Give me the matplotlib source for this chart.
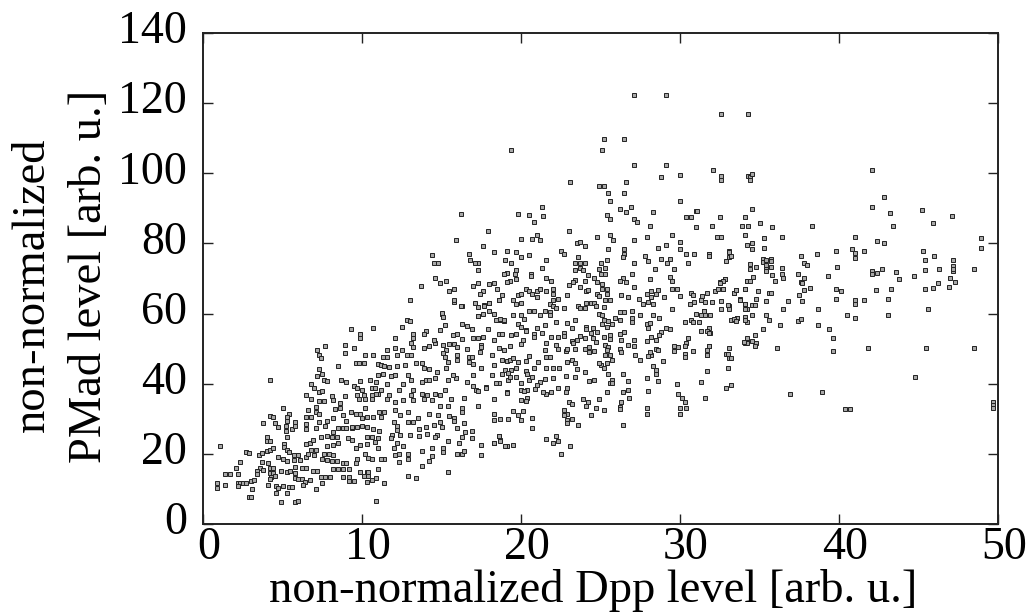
import numpy as np
import matplotlib
matplotlib.use('Agg')
import matplotlib.pyplot as plt
from matplotlib.transforms import ScaledTranslation

# values, (Dpp, PMad) by part of the cloud
low_cloud = [
    (1.1,22.3),(0.9,11.8),(0.9,10.2),(1.4,11.0),(1.4,14.3),(1.7,14.3),(2.2,14.3),(2.3,17.6),(2.1,16.0),
    (2.2,11.8),(2.3,11.8),(2.5,11.7),(2.7,11.8),(3.0,12.2),(3.2,12.6),(2.2,10.9),(3.1,10.0),(2.9,7.7),(3.0,7.7),
    (2.7,20.5),(2.9,20.2),(3.5,19.6),(3.7,20.2),(4.0,20.9),(4.2,21.1),(4.4,21.6),(3.8,28.9),(4.2,30.9),(4.4,30.4),
    (4.2,41.2),(5.0,33.1),(5.4,31.3),(5.3,30.4),(5.3,29.4),(4.5,28.7),(4.7,27.6),(5.2,27.9),(5.2,26.6),(5.6,27.1),
    (5.8,29.0),(5.8,27.9),(4.0,24.8),(4.0,23.6),(4.2,23.6),(5.3,24.7),(5.1,22.8),(5.1,22.0),(5.3,21.1),(5.4,20.6),
    (4.7,19.0),(5.0,18.5),(5.3,17.9),(5.7,18.2),(5.7,19.6),(6.0,19.8),(3.7,17.6),(3.6,16.0),(3.4,15.1),(3.4,14.3),
    (3.8,15.4),(4.1,17.3),(4.2,15.9),(4.4,15.9),(4.2,14.4),(4.4,14.4),(4.3,13.5),(4.2,12.7),(4.5,13.8),(4.9,15.1),
    (5.3,14.9),(5.5,15.1),(5.8,14.4),(6.1,18.2),(4.1,11.1),(4.6,10.8),(5.0,10.8),(5.4,10.6),(5.6,10.6),(4.7,10.2),
    (4.6,8.7),(5.3,8.7),(4.9,6.2),(5.8,6.2),(6.0,6.6),(5.8,13.0),(6.0,12.7),(6.2,12.7),(6.4,12.1),(6.7,12.5),
    (6.3,11.1),(7.1,10.0),(7.5,11.7),(5.8,16.3),(6.2,15.9),(6.5,15.9),(6.9,15.1),(7.2,15.1),(7.4,13.5),(7.7,13.5),
    (8.0,13.5),(8.2,15.6),(8.5,15.6),(8.8,15.6),(9.2,15.6),(8.8,13.5),(9.2,13.5),(9.5,12.3),(9.2,12.3),(9.9,14.9),
    (10.3,14.9),(10.4,14.9),(10.1,13.8),(10.4,13.8),(10.3,12.1),(10.6,12.5),(10.9,13.0),(11.4,11.7),(10.9,6.6),(11.0,15.6),
    (12.9,13.6),(13.4,13.0),(15.4,14.8),(13.8,16.6),(14.2,18.1),(14.4,19.4),(12.9,20.1),(12.9,18.4),(12.3,20.1),(12.3,17.6),
    (12.1,19.8),(12.0,21.6),(12.6,22.2),(12.2,23.2),(11.4,18.6),(11.2,18.4),(11.0,21.6),(10.8,23.3),(10.3,22.8),(9.9,22.4),
    (9.6,21.8),(10.3,24.7),(10.6,24.7),(11.0,24.4),(10.7,27.0),(11.1,26.6),(9.4,27.5),(9.1,24.4),(9.4,23.9),(9.6,21.6),
    (10.2,20.1),(10.4,18.7),(10.6,18.4),(9.7,18.4),(9.6,17.3),(8.8,17.3),(9.0,17.3),(8.4,17.9),(8.1,17.9),(7.8,18.2),
    (7.5,18.4),(7.6,20.1),(7.9,20.1),(8.2,19.7),(8.5,23.0),(8.2,22.5),(7.8,22.2),(6.5,22.8),(6.7,23.0),(6.9,23.9),
    (7.4,24.9),(7.8,25.1),(8.1,24.9),(8.4,24.7),(6.5,19.2),(6.8,21.1),(7.1,21.1),(6.6,20.1),(7.0,19.7),
]
left_cloud = [
    (6.5,28.5),(6.5,27.0),(6.5,30.6),(6.8,30.4),(7.1,33.4),(7.1,32.0),(7.3,31.5),(6.6,32.5),(7.1,27.3),(7.3,29.2),
    (7.8,29.4),(7.7,27.9),(8.2,30.1),(8.8,31.1),(9.0,29.4),(8.5,27.3),(8.2,26.3),(8.8,27.3),(9.0,27.3),(9.4,27.7),
    (9.7,27.7),(10.0,27.9),(10.3,27.7),(9.3,32.0),(9.6,31.3),(9.9,31.5),(10.2,33.0),(10.0,30.1),(10.3,30.6),(10.7,30.6),
    (11.2,30.6),(11.1,32.0),(11.4,31.9),(12.1,32.5),(12.4,31.0),(12.9,31.9),(6.5,36.8),(6.8,35.5),(7.3,35.0),(7.6,35.0),
    (8.1,36.6),(8.2,35.3),(8.6,34.4),(8.6,33.1),(8.3,32.8),(8.9,36.5),(6.8,39.9),(7.0,38.9),(7.3,37.5),(7.5,38.0),
    (7.2,42.2),(7.5,42.9),(7.3,44.3),(7.6,41.0),(7.8,40.7),(7.2,49.6),(7.3,48.3),(7.4,47.2),(7.7,50.8),(8.9,51.0),
    (8.9,48.9),(9.5,50.3),(8.5,45.1),(9.3,55.5),(9.9,54.3),(9.9,52.9),(10.7,55.8),(10.2,48.3),(10.7,48.3),(9.6,45.8),
    (9.8,45.8),(10.1,45.8),(11.6,49.5),(12.5,49.5),(12.2,48.3),(12.8,48.1),(13.1,48.1),(11.0,45.5),(11.2,45.3),(11.3,47.5),
    (11.6,47.5),(11.4,45.0),(11.7,44.8),(12.2,45.1),(12.7,45.3),(13.4,45.8),(13.8,45.8),(13.9,44.5),(14.2,44.1),(11.0,42.4),
    (11.3,42.9),(11.8,42.3),(12.1,42.4),(12.9,42.4),(13.1,41.0),(13.8,40.6),(14.0,41.0),(14.2,41.0),(14.6,41.5),(14.7,43.4),
    (8.7,41.2),(9.0,40.6),(9.5,39.4),(9.9,40.7),(9.7,38.7),(10.0,38.2),(10.5,41.0),(10.9,40.4),(10.6,38.9),(10.8,38.7),
    (11.6,39.8),(11.2,38.2),(11.0,37.2),(11.7,36.8),(11.6,35.6),(12.3,38.2),(12.6,39.9),(9.7,36.8),(10.1,36.8),(10.6,36.8),
    (9.8,35.6),(10.2,35.6),(10.6,35.6),(10.9,37.2),(12.1,34.7),(12.6,35.3),(13.2,35.3),(13.2,38.2),(13.1,36.8),(13.8,37.2),
    (14.1,36.8),(13.9,35.6),(14.4,35.3),(14.9,36.8),(14.6,37.2),(15.2,38.2),(15.6,35.6),(15.4,41.0),(15.9,41.5),(15.7,42.4),
    (16.6,40.6),(17.0,39.3),(17.8,39.1),(18.6,40.1),(17.2,38.2),(16.4,35.8),(14.9,33.6),(16.3,33.2),(15.4,33.7),(17.3,33.7),
    (18.3,35.5),(16.3,31.8),(15.8,30.1),(15.8,29.3),(15.5,30.8),(14.2,31.5),(14.8,31.1),(14.9,29.2),(13.5,30.1),(12.9,29.2),
    (13.2,29.2),(12.0,29.2),(12.2,27.9),(12.2,26.8),(11.9,25.5),(11.8,24.4),(12.4,25.5),(13.0,25.4),(13.6,27.0),(14.0,27.7),
    (14.5,28.2),(15.0,27.7),(14.7,25.4),(13.6,25.1),(14.1,25.6),(14.6,24.9),(16.0,27.3),(16.4,28.7),(16.5,26.3),(16.9,26.6),
    (16.3,24.7),(16.9,24.4),(16.1,23.0),(15.4,23.7),(17.5,22.4),(18.3,23.0),(18.6,25.1),(18.7,23.9),(19.1,22.2),(17.5,19.8),
    (16.0,20.1),(16.3,20.1),(16.4,20.8),(15.1,21.6),(15.1,20.6),(14.4,21.6),(13.8,20.8),(18.3,31.3),(18.3,29.6),(18.7,29.9),
    (19.2,29.8),(12.8,58.1),(13.0,57.9),(12.5,56.2),(12.1,52.9),(13.2,54.3),(13.2,52.9),(14.0,55.1),(13.9,54.3),(14.9,55.3),
    (15.2,56.7),(15.0,60.0),(15.1,59.1),(12.1,50.2),(13.1,51.5),(13.2,50.5),(13.9,50.2),(14.2,50.8),(14.6,51.5),(14.5,52.6),
    (15.1,51.0),(15.5,51.3),(15.8,51.3),(16.0,50.5),(15.3,49.6),(15.1,48.9),(15.2,47.7),(15.4,46.2),(15.3,44.6),(16.0,48.1),
    (16.0,46.7),(16.6,50.0),(15.7,54.0),(16.0,54.3),(16.3,52.7),(16.3,57.0),(16.6,56.4),(16.9,55.5),(17.9,55.7),(17.0,52.9),
    (17.3,52.9),(17.6,53.2),(17.5,51.0),(17.5,50.5),(17.4,49.1),(15.8,63.3),(16.3,62.1),(17.1,62.9),(17.3,61.9),(17.7,62.4),
    (18.0,62.9),(18.6,63.8),(17.3,59.2),(17.6,60.0),(18.0,60.8),(18.3,60.0),(18.4,58.1),(18.7,58.1),(18.9,57.9),(18.6,54.3),
    (18.8,54.3),(18.3,52.4),(18.6,50.2),(18.9,49.6),(16.7,47.7),(16.9,47.7),(16.7,46.2),(17.0,45.5),(17.5,44.6),(17.0,42.4),
    (18.2,48.1),(18.3,45.3),(18.8,46.7),(19.1,46.5),(19.0,43.9),(18.8,42.9),(19.2,41.0),(18.4,40.1),(19.1,37.5),(18.2,42.4),
    (17.8,38.9),(17.3,37.9),(13.7,67.9),(13.0,63.8),(14.4,76.8),
]
upper_cloud = [
    (27.1,122.4),(29.1,122.4),(32.6,117.0),(34.3,117.0),(25.2,109.9),(26.5,109.9),(25.1,106.6),(19.4,106.6),(27.1,102.4),(29.1,102.4),
    (28.8,99.0),(30.0,99.6),(32.1,101.0),(32.6,99.2),(32.6,98.1),(34.3,99.1),(23.1,97.5),(26.6,97.5),(24.9,96.4),(25.2,96.4),
    (25.5,94.5),(26.5,94.5),(25.6,92.2),(30.0,92.2),(21.3,90.5),(19.8,88.4),(16.2,88.4),(20.5,88.0),(21.4,87.8),(20.8,86.2),
    (26.2,89.9),(26.9,90.5),(26.6,89.1),(25.4,88.0),(25.6,87.1),(27.1,87.1),(27.3,86.2),(28.3,89.1),(28.1,85.1),(31.0,89.2),
    (31.1,89.2),(30.4,87.4),(30.7,87.4),(31.0,84.8),(32.5,87.4),(32.0,85.1),(34.1,87.4),(33.9,85.1),(34.3,85.1),(34.1,82.5),
    (34.2,79.5),(32.3,81.8),(32.6,81.8),(17.9,83.6),(15.9,81.0),(17.6,79.3),(16.7,77.0),(16.8,75.4),(17.3,74.5),
    (17.1,74.3),(17.3,72.4),(14.5,74.3),(14.8,74.3),(18.3,77.5),(19.1,77.7),(19.7,77.5),(20.5,76.8),(19.0,75.2),(19.4,74.3),
    (20.0,76.0),(19.7,72.4),(21.6,75.4),(21.3,73.1),(20.0,81.2),(21.0,82.4),(20.7,81.2),(21.2,81.0),(23.0,83.6),(23.5,80.2),
    (23.7,80.5),(24.0,79.3),(22.5,77.7),(22.7,77.0),(24.8,81.9),(25.6,82.5),(25.8,81.0),(27.1,81.0),(27.9,81.8),(25.5,78.5),
    (26.5,78.5),(26.5,77.0),(26.4,76.2),(29.5,82.5),(30.0,80.5),(29.1,79.5),(28.6,78.7),(30.0,78.3),(30.4,77.0),(30.9,77.0),
    (31.8,77.0),(31.8,76.4),(33.1,77.7),(33.1,76.2),(32.9,74.9),(27.8,76.4),(28.0,74.9),(28.8,75.7),(29.4,75.7),(29.2,74.5),
    (30.5,74.5),(23.6,76.0),(23.4,74.3),(23.7,74.5),(24.0,74.5),(25.0,74.5),(25.4,75.2),(25.3,73.1),(27.1,74.5),(24.9,72.8),
    (25.0,71.4),(25.3,71.2),(23.4,72.4),(23.7,73.0),(23.9,72.4),(24.2,71.1),(27.0,71.2),(28.4,72.7),(29.6,72.7),(28.1,70.0),
    (29.4,70.3),(29.5,69.3),(26.4,70.2),(26.2,69.3),(26.6,68.9),(27.1,67.5),(24.6,70.2),(24.8,68.9),(25.1,68.4),(23.4,69.5),
    (24.0,69.3),(23.3,68.9),(23.0,68.2),(23.7,67.6),(21.6,70.2),(21.9,69.3),(20.6,71.4),(20.6,70.7),(19.7,70.0),(19.1,71.6),
    (18.9,71.2),(19.6,71.2),(19.3,69.2),(19.1,68.9),(14.6,70.2),(14.9,68.8),(15.3,69.3),(15.5,66.5),(15.8,66.9),(17.0,67.9),
    (17.3,68.8),(18.0,68.4),(18.3,68.7),(17.6,66.3),(17.4,65.7),(18.5,66.9),(18.8,65.2),(18.6,63.8),(15.8,63.8),(16.2,62.1),
    (17.7,62.3),(18.0,63.0),(17.3,59.3),(15.0,60.1),(19.5,64.0),(19.8,65.2),(20.0,65.7),(20.3,66.9),(20.5,66.4),(20.7,65.5),
    (21.0,66.5),(21.2,67.0),(21.0,64.6),(21.6,66.5),(22.0,66.9),(22.0,65.7),(22.9,65.4),(19.7,62.6),(20.0,62.9),(22.3,64.1),
    (22.0,63.8),(21.8,62.7),(22.0,62.3),(22.2,61.7),(21.8,60.5),(21.5,60.7),(22.7,61.7),(20.5,60.8),(20.8,60.6),(21.2,59.7),
    (19.5,59.7),(20.0,59.7),(20.2,58.5),(18.7,58.5),(18.9,58.3),(21.8,59.5),(24.1,66.5),(24.2,66.7),(24.8,65.7),(24.9,65.1),
    (25.1,66.9),(25.4,67.1),(25.4,65.7),(25.3,64.0),(25.6,63.8),(24.1,62.9),(24.4,63.0),(24.6,63.0),(24.7,62.2),(23.6,62.2),
    (23.7,61.7),(24.0,61.7),(25.2,61.9),(26.3,65.4),(26.7,64.7),(27.4,64.2),(27.7,62.6),(28.0,63.3),(28.3,62.6),(27.9,65.7),
    (28.2,66.5),(28.6,66.8),(28.2,64.6),(28.5,65.7),(29.0,64.7),(29.5,66.9),(29.8,66.9),(30.0,65.1),(29.5,61.4),(30.7,66.0),
    (30.8,65.4),(31.4,65.0),(31.7,65.9),(32.2,66.4),(32.7,66.9),(32.5,68.9),(32.8,69.8),(31.3,63.9),(30.9,63.2),(30.6,62.6),
    (31.6,63.2),(32.0,63.4),(32.6,63.7),(33.5,66.7),(33.4,65.9),(34.1,66.9),(34.2,69.4),(33.8,63.8),(34.1,62.7),(34.2,61.4),
    (33.1,62.3),(33.1,61.3),(32.6,61.3),(31.0,60.0),(31.5,60.7),(31.3,59.5),(31.6,59.5),(31.9,59.5),(24.9,60.0),(25.1,59.5),
    (25.9,58.6),(26.2,60.5),(26.5,60.5),(27.0,60.7),(27.5,59.5),(28.3,59.5),(28.7,58.6),
]
mid_cloud = [
    (19.8,56.9),(20.0,56.1),(20.3,55.2),(21.0,56.0),(21.5,56.7),(22.2,57.5),(22.9,57.4),(23.4,58.1),(23.2,55.9),(24.1,56.1),
    (24.5,56.0),(24.8,54.8),(25.2,58.3),(25.5,57.9),(25.1,56.9),(25.4,56.2),(25.7,56.9),(26.2,58.1),(27.0,58.6),(27.0,57.5),
    (27.9,56.9),(28.1,57.2),(28.0,55.9),(28.8,54.8),(29.1,55.9),(29.4,55.7),(28.7,53.8),(28.5,52.6),(27.9,52.1),(28.2,53.4),
    (30.3,57.7),(30.7,58.3),(30.8,57.5),(31.2,57.5),(31.3,55.0),(31.8,56.0),(31.9,54.5),(30.5,52.9),(30.4,51.5),(29.9,50.5),
    (29.6,50.8),(29.6,49.4),(30.3,50.7),(30.8,49.4),(31.8,50.8),(31.7,49.7),(31.7,48.1),(30.3,48.4),(30.3,47.5),(31.7,43.6),
    (33.1,50.3),(32.9,48.6),(33.1,47.3),(33.0,44.4),(34.2,52.4),(34.1,51.5),(33.2,58.3),(33.6,58.8),(34.1,58.9),(34.2,57.6),
    (31.3,40.4),(29.8,39.8),(29.9,37.0),(30.1,35.8),(30.3,34.9),(30.4,33.2),(30.0,33.0),(30.0,31.5),(31.6,35.8),(32.9,38.7),
    (33.2,39.5),(28.9,46.4),(27.9,41.5),(28.6,40.8),(28.0,37.9),(27.9,33.0),(27.9,31.5),(26.4,42.9),(26.7,40.8),(25.7,41.2),
    (25.6,40.1),(25.7,40.1),(25.4,37.7),(26.7,38.2),(26.4,37.7),(26.8,35.8),(26.3,34.9),(26.2,33.4),(26.2,32.9),(26.4,28.1),
    (24.6,41.2),(24.3,40.7),(24.0,43.2),(23.4,42.0),(22.8,42.3),(22.0,41.5),(21.5,41.3),(21.2,40.5),(21.0,39.6),(20.9,38.4),
    (20.4,38.2),(20.0,40.3),(22.9,38.8),(22.3,38.9),(21.9,37.5),(21.6,37.2),(21.4,37.7),(22.8,37.7),(19.1,37.4),(20.0,38.2),
    (20.2,37.9),(20.4,35.8),(20.3,35.0),(20.0,35.3),(19.5,32.3),(20.1,32.3),(19.8,31.2),(20.7,30.1),(20.7,27.3),(20.0,29.6),
    (23.0,34.9),(23.2,34.1),(23.9,35.6),(24.2,34.9),(24.1,33.7),(24.9,35.6),(24.7,33.0),(25.2,32.4),(22.7,32.5),(22.9,31.5),
    (22.7,31.2),(24.4,31.0),(22.9,29.6),(22.9,28.7),(23.2,29.8),(23.6,28.1),(21.6,24.1),(22.2,25.1),(22.3,23.8),(22.0,23.2),
    (23.1,22.2),(22.5,19.9),(19.5,22.5),(19.0,22.1),(18.6,25.1),(18.7,23.8),(18.3,23.1),(19.4,54.0),(19.7,54.3),(20.3,55.0),
    (20.8,54.3),(20.8,53.2),(21.3,54.6),(21.9,53.2),(22.3,53.2),(22.7,54.6),(22.7,53.7),(20.1,52.6),(20.0,51.3),(19.3,50.7),
    (21.6,51.5),(21.5,49.6),(22.2,51.0),(22.3,49.8),(22.8,49.4),(22.9,49.9),(23.4,49.8),(23.5,52.6),(23.2,52.2),(23.3,51.5),
    (23.7,53.6),(24.0,52.9),(24.1,55.7),(24.4,54.5),(24.0,50.0),(24.3,50.5),(24.6,49.4),(24.3,49.1),(24.5,52.9),(24.7,51.9),
    (25.2,53.4),(25.6,54.0),(25.6,52.7),(25.3,51.0),(25.3,48.1),(25.5,50.5),(25.4,49.6),(25.6,48.1),(25.7,46.9),(25.0,45.3),
    (25.2,44.6),(25.4,46.0),(25.5,42.9),(26.2,54.3),(26.5,54.8),(26.3,52.6),(26.7,51.0),(27.1,52.4),(27.1,50.8),(26.2,50.0),
    (26.3,49.1),(27.2,48.1),(27.5,46.7),(28.2,48.1),(28.0,47.9),(28.1,49.1),(28.5,50.0),(28.6,49.6),(28.3,45.0),(28.5,43.9),
    (28.5,42.9),(19.3,46.7),(19.5,47.2),(19.8,46.1),(20.5,47.9),(20.3,46.5),(21.1,46.3),(20.8,44.6),(20.3,43.7),(20.4,42.9),
    (19.7,44.4),(19.4,43.9),(19.2,43.1),(19.3,42.0),(19.7,42.0),(20.5,41.2),(20.7,42.0),(21.6,47.7),(21.8,47.5),(22.9,46.3),
    (23.2,46.7),(23.4,45.8),(21.6,44.4),(22.0,44.6),(22.4,44.4),(23.5,44.1),(24.9,45.8),
]
right_tail = [
    (34.4,99.0),(34.5,99.7),(34.4,98.2),(42.1,101.0),(42.8,93.1),(34.5,89.9),(42.1,90.3),(43.2,88.6),(45.2,89.5),(47.1,87.8),
    (45.9,85.8),(43.4,85.0),(35.0,85.8),(35.8,84.8),(38.3,85.1),(35.3,81.6),(36.4,81.9),(34.5,80.2),(34.5,78.4),(35.3,78.6),
    (41.0,81.8),(42.4,80.8),(42.8,80.1),(48.9,81.6),(48.9,78.6),(45.3,77.7),(39.8,77.7),(40.8,78.3),(41.0,77.3),(41.0,75.9),
    (41.6,77.7),(46.0,76.3),(45.4,75.4),(47.2,75.2),(47.2,73.6),(47.2,72.0),(47.2,72.8),(37.6,76.5),(38.6,76.9),(37.8,74.3),
    (38.0,73.9),(39.9,73.2),(37.4,71.4),(37.8,70.2),(39.3,70.8),(37.6,68.9),(37.7,68.6),(42.1,72.0),(42.1,71.3),(42.4,71.5),
    (42.7,72.6),(43.6,71.9),(43.8,69.8),(44.7,70.8),(45.4,72.3),(46.3,72.6),(48.5,72.6),(47.0,70.2),(47.3,68.9),(46.9,67.7),
    (46.2,68.7),(45.9,67.2),(45.4,67.1),(39.8,67.0),(40.1,66.5),(38.2,67.2),(37.8,66.6),(37.5,65.2),(37.7,63.7),(36.8,63.7),
    (39.8,64.1),(41.0,64.0),(41.0,62.6),(41.6,64.0),(42.3,66.7),(43.3,66.9),(43.1,64.1),(45.6,61.3),(38.7,61.3),(36.5,61.4),
    (40.5,59.6),(41.0,58.8),(43.1,59.5),(35.4,59.6),(35.6,58.3),(37.4,57.9),(37.6,58.5),(36.3,56.7),(38.7,56.7),(39.4,55.6),
    (39.6,53.0),(39.6,49.2),(36.1,50.3),(35.2,55.7),(34.7,53.9),(34.8,51.7),(34.7,50.8),(34.5,52.2),(34.2,52.9),(34.2,51.5),
    (34.0,52.0),(41.8,50.1),(45.5,50.1),(48.5,50.1),(44.8,41.8),(36.9,37.0),(38.9,37.5),(40.4,32.8),(40.7,32.8),(49.7,34.9),
    (49.7,33.9),(49.7,33.1),(35.2,75.7),(35.2,74.7),(35.4,75.2),(35.7,75.7),(35.7,75.0),(35.4,73.8),(35.7,73.3),(35.4,72.8),
    (35.4,72.0),(34.4,74.0),(34.4,72.6),(34.8,73.2),(35.8,71.0),(36.4,73.0),(36.4,71.4),(36.5,70.2),(36.0,69.2),(34.6,70.3),
    (34.2,69.4),(34.4,69.4),(34.1,66.9),(34.9,66.4),(35.6,65.9),(35.7,65.8),(34.8,64.2),(35.4,63.7),(33.8,64.2),(33.8,63.8),
    (34.1,62.6),(34.5,62.4),(34.7,62.4),(34.1,61.3),(34.5,59.5),(34.1,58.1),(32.8,69.8),(32.7,69.3),(32.5,68.8),(32.4,67.0),
    (32.7,67.0),(33.4,65.9),(33.5,66.6),(33.0,62.4),(33.6,58.8),(33.4,58.4),(33.5,58.0),(31.5,60.6),(31.7,54.9),(31.8,54.4),
    (33.0,48.4),(31.7,48.3),(33.2,47.4),(31.8,50.7),(33.1,77.6),(33.2,76.3),(31.8,76.9),(31.8,76.3),
]
x_ticks = [0, 10, 20, 30, 40, 50]
y_ticks = [0, 20, 40, 60, 80, 100, 120, 140]

plt.rcParams['font.family'] = ['Liberation Serif', 'DejaVu Serif']

fig = plt.figure(figsize=(10.3, 6.12), dpi=100)
ax = fig.add_axes([203/1030, 1 - 524/612, 795/1030, 491/612])

points = np.array(low_cloud + left_cloud + upper_cloud + mid_cloud + right_tail)
ax.plot(points[:, 0], points[:, 1], ls='none', marker='s', ms=3.4, mew=0.7,
        mec='#222222', mfc='#a8a8a8', clip_on=False)

ax.set_xlim(0, 50)
ax.set_ylim(0, 140)
ax.set_xticks(x_ticks)
ax.set_yticks(y_ticks)
ax.tick_params(direction='in', length=7, width=1.0, top=True, right=True, labelsize=33, color='#222222')
ax.tick_params(axis='x', pad=1.5)
ax.tick_params(axis='y', pad=11.5)
for s in ax.spines.values():
    s.set_linewidth(1.4)
    s.set_color('#222222')

# tick labels sit off their ticks in the original
for lab in ax.get_xticklabels():
    lab.set_transform(lab.get_transform() + ScaledTranslation(6/100, 0, fig.dpi_scale_trans))
for lab in ax.get_yticklabels():
    lab.set_transform(lab.get_transform() + ScaledTranslation(0, 6/100, fig.dpi_scale_trans))

fig.text(593/1030, 1 - 602/612, 'non-normalized Dpp level [arb. u.]', fontsize=33.5, ha='center', va='baseline')
fig.text(44/1030, 1 - 285/612, 'non-normalized', fontsize=33.5, rotation=90, ha='center', va='baseline', rotation_mode='anchor')
fig.text(101/1030, 1 - 276/612, 'PMad level [arb. u.]', fontsize=33.5, rotation=90, ha='center', va='baseline', rotation_mode='anchor')

fig.savefig('out.png', dpi=100)
